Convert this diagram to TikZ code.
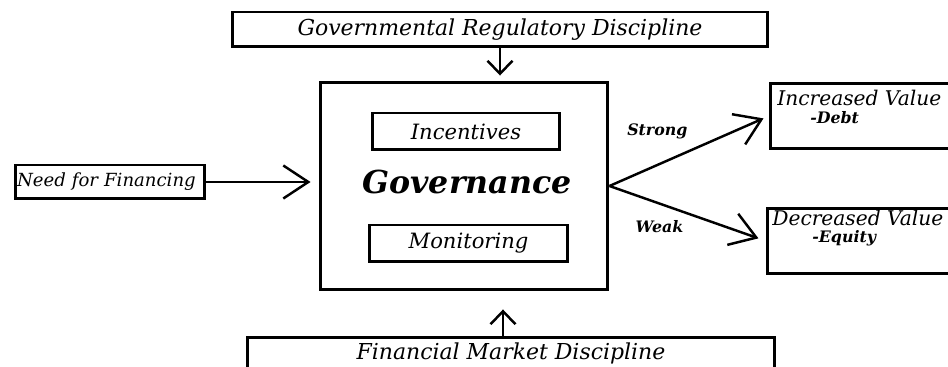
\documentclass[tikz,border=0pt]{standalone}
\usepackage{fontspec}
\setmainfont{DejaVu Serif}
\usetikzlibrary{arrows.meta, positioning}

\tikzset{
  box/.style={draw, line width=1.7pt, inner sep=2pt},
  arr/.style={line width=1.4pt, -{Straight Barb[length=0.26cm, width=0.5cm]}},
  bigarr/.style={line width=1.4pt, -{Straight Barb[length=0.5cm, width=0.66cm]}},
  lbl/.style={font=\fontsize{9}{11}\selectfont\bfseries\itshape},
}

\begin{document}
\begin{tikzpicture}[x=0.02cm, y=-0.02cm]
  \clip (0,0) rectangle (948,367);
  \fill[white] (0,0) rectangle (948,367);
  % boxes
  \node[box, minimum width=10.72cm, minimum height=0.7cm, font=\fontsize{12.5}{14}\selectfont\itshape] (grd) at (500,29.5) {Governmental Regulatory Discipline};
  \node[box, minimum width=5.76cm, minimum height=4.16cm] (gov) at (464,186) {};
  \node[box, minimum width=3.76cm, minimum height=0.74cm, font=\fontsize{12}{14}\selectfont\itshape] (inc) at (466,131.5) {Incentives};
  \node[font=\fontsize{18}{21}\selectfont\bfseries\itshape] (govtxt) at (467,182) {Governance};
  \node[box, minimum width=3.98cm, minimum height=0.74cm, font=\fontsize{12}{14}\selectfont\itshape] (mon) at (468.5,243.5) {Monitoring};
  \node[box, text width=3.72cm, align=left, inner xsep=0.04cm, minimum height=0.68cm, font=\fontsize{10.3}{12}\selectfont\itshape] (need) at (110,182) {Need for Financing};
  \node[box, anchor=north, minimum width=10.54cm, inner ysep=0.1cm, text depth=0.8cm, font=\fontsize{12.5}{14}\selectfont\itshape] (fmd) at (511,336) {Financial Market Discipline};
  \node[box, anchor=north west, minimum width=4.6cm, minimum height=1.3cm] (incv) at (769,82) {};
  \node[box, anchor=north west, minimum width=4.6cm, minimum height=1.3cm] (decv) at (766,207) {};
  % value texts
  \node[anchor=west, inner sep=0pt, font=\fontsize{11.5}{14}\selectfont\itshape] (incvt) at (777,98) {Increased Value};
  \node[anchor=west, inner sep=0pt, lbl] (debt) at (810,118) {-Debt};
  \node[anchor=west, inner sep=0pt, font=\fontsize{11.5}{14}\selectfont\itshape] (decvt) at (772,218) {Decreased Value};
  \node[anchor=west, inner sep=0pt, lbl] (eqt) at (812,238) {-Equity};
  % arrows
  \draw[arr, shorten >=0.1cm] (grd.south) -- (grd.south |- gov.north);
  \draw[arr, shorten >=0.36cm] (fmd.north -| 503,0) -- (gov.south -| 503,0);
  \draw[bigarr, shorten >=0.16cm] (need) -- (need -| gov.west);
  \draw[bigarr, shorten >=0.12cm] (gov.east) -- (incv.west) node[lbl, pos=0.3, above=0.38cm] {Strong};
  \draw[bigarr, shorten >=0.16cm] (gov.east) -- (decv.west) node[lbl, pos=0.32, below=0.2cm] {Weak};
\end{tikzpicture}
\end{document}
